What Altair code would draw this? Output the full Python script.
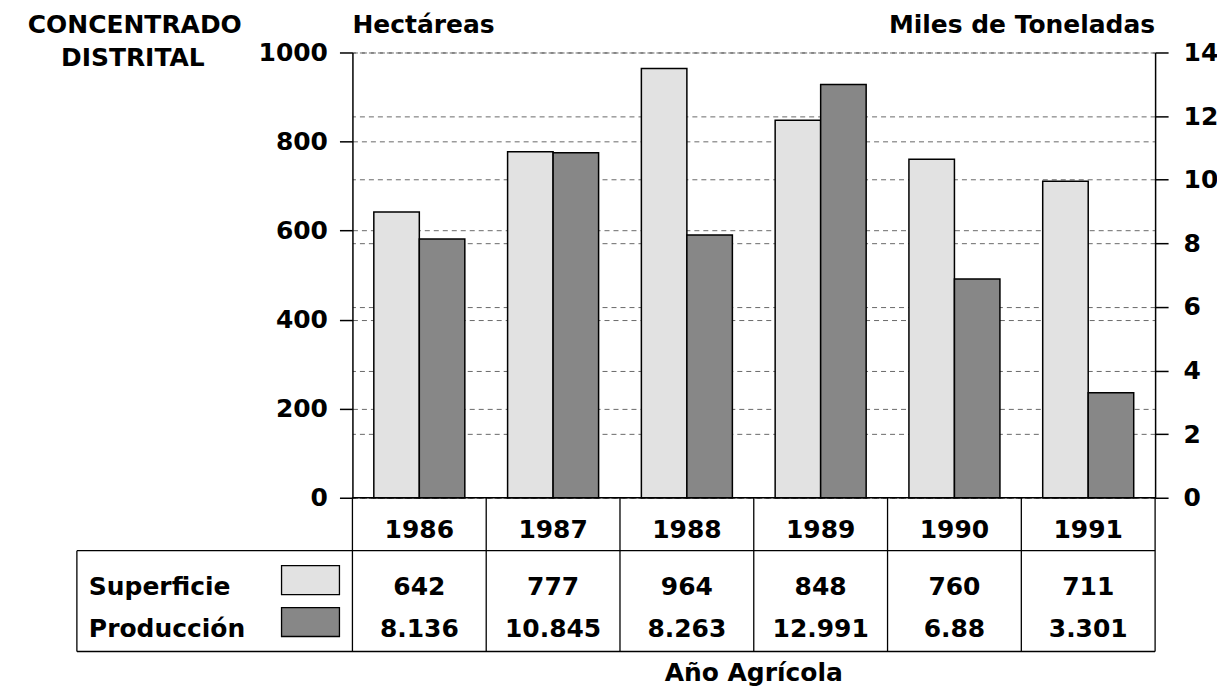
import altair as alt
import pandas as pd

# ---- data ----
years = ["1986", "1987", "1988", "1989", "1990", "1991"]
superficie = [642, 777, 964, 848, 760, 711]
produccion = [8.136, 10.845, 8.263, 12.991, 6.88, 3.301]
series = ["Superficie", "Producción"]
hect_ticks = [0, 200, 400, 600, 800, 1000]
ton_ticks = [0, 2, 4, 6, 8, 10, 12, 14]

df = pd.DataFrame({
    "year": years,
    "sup": superficie,
    "prod": produccion,
    "sup_s": series[0],
    "prod_s": series[1],
})
one = pd.DataFrame({"k": [0]})

W, H = 804, 446
FONT = "DejaVu Sans"
LIGHT = "#e2e2e2"
DARK = "#878787"

x_scale = alt.Scale(paddingInner=0, paddingOuter=0)
x_enc = alt.X("year:N", sort=years, scale=x_scale, axis=None)
xoff_scale = alt.Scale(domain=series, paddingInner=0, paddingOuter=0.47)

axis_common = dict(
    tickSize=13, grid=True, gridDash=[5, 4], gridColor="#444", gridWidth=0.8,
    domainColor="black", domainWidth=1.5, tickColor="black", tickWidth=1.5,
    labelFont=FONT, labelFontWeight="bold", labelFontSize=25, labelColor="black",
    format="d",
)

base = alt.Chart(df)

sup_bars = base.mark_bar(fill=LIGHT, stroke="black", strokeWidth=1.5).encode(
    x=x_enc,
    xOffset=alt.XOffset("sup_s:N", scale=xoff_scale),
    y=alt.Y("sup:Q", title=None, scale=alt.Scale(domain=[0, 1000], nice=False),
            axis=alt.Axis(orient="left", values=hect_ticks, labelPadding=12, **axis_common)),
)

prod_bars = base.mark_bar(fill=DARK, stroke="black", strokeWidth=1.5).encode(
    x=x_enc,
    xOffset=alt.XOffset("prod_s:N", scale=xoff_scale),
    y=alt.Y("prod:Q", title=None, scale=alt.Scale(domain=[0, 14], nice=False),
            axis=alt.Axis(orient="right", values=ton_ticks, labelPadding=15, **axis_common)),
)

txt = dict(font=FONT, fontWeight="bold", fontSize=25, color="black", baseline="alphabetic")

year_text = base.mark_text(**txt).encode(x=x_enc, y=alt.value(486), text="year:N")
sup_text = base.mark_text(**txt).encode(x=x_enc, y=alt.value(543), text=alt.Text("sup:Q"))
prod_text = base.mark_text(**txt).encode(x=x_enc, y=alt.value(585),
                                          text=alt.Text("prod:Q", format="~g"))

# table grid
vlines = base.mark_rule(color="black", strokeWidth=1.3).encode(
    x=alt.X("year:N", sort=years, scale=x_scale, axis=None, bandPosition=0),
    y=alt.value(446), y2=alt.value(600),
)
c1 = alt.Chart(one)
right_edge = c1.mark_rule(color="black", strokeWidth=1.3).encode(
    x=alt.value(W), y=alt.value(446), y2=alt.value(600))
left_box = c1.mark_rule(color="black", strokeWidth=1.3).encode(
    x=alt.value(-276), y=alt.value(499), y2=alt.value(600))
h_mid = c1.mark_rule(color="black", strokeWidth=1.3).encode(
    x=alt.value(-276), x2=alt.value(W), y=alt.value(499))
h_bot = c1.mark_rule(color="black", strokeWidth=1.3).encode(
    x=alt.value(-276), x2=alt.value(W), y=alt.value(600))
h_base = c1.mark_rule(color="black", strokeWidth=1.5).encode(
    x=alt.value(0), x2=alt.value(W), y=alt.value(446))

# legend part of table
leg_sup = c1.mark_text(align="left", **txt).encode(
    x=alt.value(-264), y=alt.value(543), text=alt.value("Superficie"))
leg_prod = c1.mark_text(align="left", **txt).encode(
    x=alt.value(-264), y=alt.value(585), text=alt.value("Producción"))
sw_sup = c1.mark_rect(fill=LIGHT, stroke="black", strokeWidth=1.3).encode(
    x=alt.value(-71), x2=alt.value(-13), y=alt.value(514), y2=alt.value(543))
sw_prod = c1.mark_rect(fill=DARK, stroke="black", strokeWidth=1.3).encode(
    x=alt.value(-71), x2=alt.value(-13), y=alt.value(556), y2=alt.value(585))

# headings
t_conc = c1.mark_text(align="center", **txt).encode(
    x=alt.value(-218), y=alt.value(-20), text=alt.value("CONCENTRADO"))
t_dist = c1.mark_text(align="center", **txt).encode(
    x=alt.value(-220), y=alt.value(14), text=alt.value("DISTRITAL"))
t_hect = c1.mark_text(align="left", **txt).encode(
    x=alt.value(0), y=alt.value(-20), text=alt.value("Hectáreas"))
t_ton = c1.mark_text(align="right", **txt).encode(
    x=alt.value(W), y=alt.value(-20), text=alt.value("Miles de Toneladas"))
t_year = c1.mark_text(align="center", **txt).encode(
    x=alt.value(W / 2), y=alt.value(630), text=alt.value("Año Agrícola"))

chart = alt.layer(
    sup_bars, prod_bars,
    vlines, right_edge, left_box, h_mid, h_bot, h_base,
    year_text, sup_text, prod_text,
    leg_sup, leg_prod, sw_sup, sw_prod,
    t_conc, t_dist, t_hect, t_ton, t_year,
).resolve_scale(y="independent").properties(
    width=W, height=H,
    autosize=alt.AutoSizeParams(type="none"),
    padding={"left": 345, "top": 44, "right": 62, "bottom": 190},
    background="white",
).configure_view(strokeWidth=0)

chart.save("out.html", embed_options={"renderer": "svg", "actions": False})
